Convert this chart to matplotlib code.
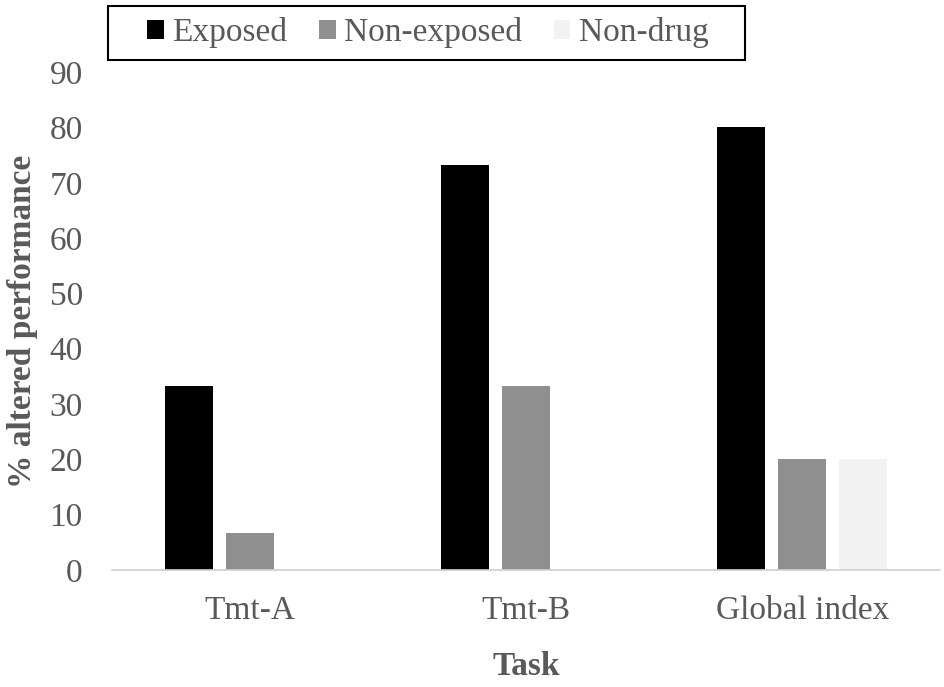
import numpy as np
import matplotlib.pyplot as plt
from matplotlib.patches import Rectangle

# data
tasks = ['Tmt-A', 'Tmt-B', 'Global index']
exposed = [33.3, 73.3, 80.0]
non_exposed = [6.7, 33.3, 20.0]
non_drug = [0.0, 0.0, 20.0]

plt.rcParams['font.family'] = ['Liberation Serif', 'DejaVu Serif']
txt = '#595959'
W, H = 945, 687

fig = plt.figure(figsize=(9.45, 6.87), dpi=100)
ax = fig.add_axes([0.1185, 0.1703, 0.8765, 0.7247])

x = np.arange(len(tasks))
w = 0.174
off = 0.221
ax.bar(x - off, exposed, w, color='black', label='Exposed')
ax.bar(x, non_exposed, w, color='#8f8f8f', label='Non-exposed')
ax.bar(x + off, non_drug, w, color='#f2f2f2', label='Non-drug')

ax.set_xlim(-0.5, 2.5)
ax.set_ylim(0, 90)
ax.set_yticks(range(0, 91, 10))
ax.set_xticks(x)
ax.set_xticklabels(tasks)
for s in ['top', 'right', 'left']:
    ax.spines[s].set_visible(False)
ax.spines['bottom'].set_color('#d0d0d0')
ax.spines['bottom'].set_linewidth(1.2)
ax.tick_params(axis='both', length=0, labelsize=24, colors=txt)
ax.tick_params(axis='y', pad=21)
ax.tick_params(axis='x', pad=18)

ax.set_ylabel('% altered performance', fontsize=24, fontweight='bold', color=txt, labelpad=8)
ax.set_xlabel('Task', fontsize=24, fontweight='bold', color=txt, labelpad=18)

# legend box drawn separately
fig.patches.append(Rectangle((108 / W, 1 - 60 / H), 637 / W, 54 / H, transform=fig.transFigure,
                             facecolor='white', edgecolor='black', linewidth=1.5))
leg = fig.legend(loc='center', bbox_to_anchor=(428 / W, 1 - 33 / H), ncol=3, fontsize=24,
                 frameon=False, handlelength=0.5, handleheight=0.5, handletextpad=0.25,
                 columnspacing=0.95, borderpad=0, borderaxespad=0)
for t in leg.get_texts():
    t.set_color(txt)

fig.savefig('out.png', dpi=100)
